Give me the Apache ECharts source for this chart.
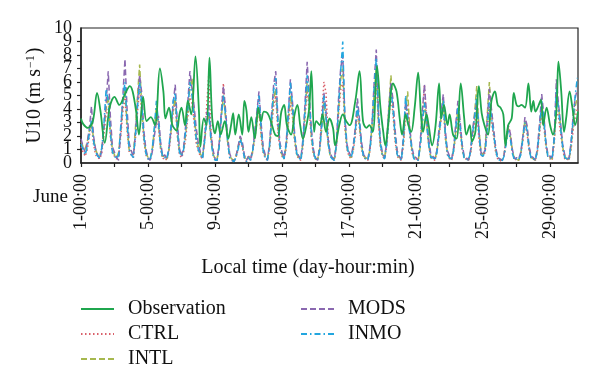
<!DOCTYPE html>
<html>
<head>
<meta charset="utf-8">
<script src="https://cdn.jsdelivr.net/npm/echarts@6/dist/echarts.min.js"></script>
<style>
html,body{margin:0;padding:0;background:#fff;}
#chart{width:600px;height:388px;}
</style>
</head>
<body>
<div id="chart"></div>
<script>
// X axis ticks (hours since June 1 00:00) and tick labels
const xTickHours = [0, 96, 192, 288, 384, 480, 576, 672];
const xTickLabels = ['1-00:00', '5-00:00', '9-00:00', '13-00:00', '17-00:00', '21-00:00', '25-00:00', '29-00:00'];
const yTicks = [0,1,2,3,4,5,6,7,8,9,10];

// Observation (hour, U10)
const obsHour = [0,3,10,17,23,28,34,41,48,55,63,70,74,79,83,89,94,100,106,113,118,121,126,131,137,141,144,149,153,158,164,169,171,176,180,184,188,192,196,200,206,211,215,218,221,226,231,234,237,240,244,249,254,258,262,267,272,278,282,287,291,295,301,306,310,314,318,323,327,330,334,337,342,346,351,356,361,364,370,375,380,385,393,399,404,409,413,418,424,429,433,436,440,447,452,457,460,465,469,473,478,483,487,490,495,498,503,508,513,516,520,525,528,533,538,544,549,552,557,560,565,570,574,578,583,588,593,597,601,605,608,612,617,620,624,627,631,636,641,645,648,651,655,659,662,667,672,676,681,684,688,692,695,700,704,708,712];
const obsU10 = [3.3,2.9,2.6,3.1,5.2,3.8,1.5,4.1,4.9,4.3,5.1,5.7,5.3,3.8,2.1,4.9,3.1,3.4,2.8,7.0,5.3,3.3,4.1,2.8,2.4,3.6,4.1,2.8,4.6,3.6,7.9,3.8,1.2,3.3,2.8,7.8,3.3,2.2,3.1,2.1,3.1,1.8,2.8,3.7,2.1,3.6,2.1,4.6,3.9,2.3,3.4,1.8,4.1,3.1,3.8,3.7,3.1,2.1,2.0,3.8,4.3,2.8,2.1,3.6,4.3,2.8,1.8,2.8,4.1,6.8,2.3,3.1,2.8,3.6,2.3,3.3,2.6,1.3,2.8,3.6,3.1,2.8,4.6,6.8,3.1,2.6,2.8,2.3,7.2,4.1,2.3,1.3,2.8,5.9,5.3,3.1,2.1,3.6,2.8,2.3,4.1,6.7,3.6,2.3,3.6,2.8,1.3,2.8,5.9,3.3,4.3,2.8,3.6,2.1,1.8,5.9,3.3,2.1,2.8,1.6,2.3,5.7,3.7,2.8,2.1,4.6,5.3,4.3,4.1,3.6,1.3,2.8,3.3,5.2,4.3,4.2,4.3,4.1,5.9,3.8,4.6,3.8,4.2,4.7,2.8,4.1,2.8,2.1,3.8,7.5,5.3,2.3,3.3,5.3,4.1,2.8,3.8];

// Model runs, every 3 hours from June 1 00:00 (8 values per day)
const CTRL = [
1.2,0.8,0.5,1.0,2.0,2.8,1.4,0.6, 0.4,0.3,0.8,2.2,3.6,4.0,2.0,0.7, 0.5,0.3,0.6,2.0,3.8,5.0,2.4,0.8, 0.6,0.4,1.8,3.8,5.5,3.8,1.6,0.6,
0.3,0.2,0.8,2.0,3.8,2.6,1.0,0.3, 0.4,0.2,0.9,2.2,3.8,4.4,2.0,0.6, 0.4,0.8,1.8,3.4,5.0,4.4,3.0,1.5, 0.9,0.5,0.3,1.8,4.2,6.5,2.6,0.8,
0.3,0.2,1.4,3.6,5.9,3.6,1.6,0.4, 0.2,0.1,0.4,1.0,1.6,1.2,0.4,0.1, 0.4,0.2,0.8,1.8,3.0,4.0,2.0,0.7, 0.4,0.2,1.0,2.6,4.2,5.0,2.4,1.0,
0.5,0.3,1.1,2.8,4.5,3.4,1.6,0.6, 0.3,0.2,1.2,3.4,5.5,3.8,1.8,0.6, 0.3,0.2,1.2,3.6,6.0,5.2,2.0,0.6, 0.3,0.2,1.2,3.6,5.4,6.0,2.6,1.0,
0.5,0.3,0.9,2.0,3.6,2.6,1.0,0.4, 0.3,0.2,0.9,2.4,4.6,6.5,3.0,1.1, 0.5,0.3,1.3,3.2,5.0,3.6,1.6,0.5, 0.3,0.2,1.3,3.6,4.4,2.2,0.8,0.3,
0.3,0.2,1.4,3.6,5.8,3.2,1.4,0.4, 0.3,0.2,0.8,2.0,3.2,4.2,1.8,0.6, 0.3,0.2,0.9,2.2,3.6,2.4,1.0,0.3, 0.3,0.2,0.7,1.8,3.0,4.0,1.8,0.5,
0.5,0.8,2.4,4.2,3.0,2.0,0.8,0.3, 0.2,0.1,0.6,1.8,2.8,2.2,0.8,0.2, 0.3,0.2,0.6,1.6,2.8,2.2,0.9,0.3, 0.3,0.2,0.9,2.2,3.8,2.8,1.2,0.4,
0.3,0.2,1.4,4.0,3.4,2.2,1.0,0.3, 0.3,0.2,1.0,2.4,3.4,4.0];
const INTL = [
1.6,1.2,1.0,1.6,2.4,3.0,1.8,1.0, 0.6,0.5,1.2,2.6,4.0,5.0,2.4,1.0, 0.6,0.4,0.8,2.4,4.4,5.5,2.8,1.0, 0.8,0.6,2.6,5.0,7.3,4.2,2.0,0.8,
0.4,0.3,1.0,2.4,4.2,2.8,1.2,0.5, 0.5,0.3,1.0,2.4,4.0,4.8,2.2,0.9, 0.6,1.0,2.2,3.8,5.6,6.3,3.8,2.0, 1.2,0.7,0.4,1.5,3.0,3.6,1.8,0.7,
0.3,0.3,1.3,3.4,5.0,3.4,1.6,0.5, 0.3,0.2,0.5,1.2,1.9,1.4,0.5,0.2, 0.5,0.3,0.9,2.0,3.2,4.0,2.2,0.9, 0.5,0.3,1.2,3.0,4.8,5.5,2.8,1.2,
0.6,0.4,1.3,3.2,5.0,3.8,1.8,0.7, 0.4,0.3,1.5,3.8,6.0,4.2,2.0,0.8, 0.3,0.3,1.0,2.6,4.5,3.2,1.4,0.5, 0.4,0.3,1.4,4.0,6.2,7.0,3.0,1.2,
0.6,0.4,1.1,2.4,4.0,2.8,1.2,0.5, 0.4,0.3,1.0,2.8,5.2,7.0,3.2,1.3, 0.6,0.4,1.6,4.2,6.5,4.2,2.0,0.7, 0.4,0.3,1.6,4.0,5.3,2.4,1.0,0.4,
0.3,0.2,1.2,3.0,4.4,3.0,1.4,0.5, 0.4,0.3,0.9,2.2,3.6,4.8,2.0,0.7, 0.4,0.3,1.0,2.4,4.0,2.8,1.2,0.4, 0.4,0.2,0.8,2.2,3.8,5.7,2.6,0.8,
0.6,1.2,3.6,6.0,3.8,2.4,1.0,0.4, 0.3,0.2,0.6,1.5,2.6,2.0,0.9,0.3, 0.3,0.2,0.7,1.9,3.2,2.6,1.1,0.4, 0.3,0.2,1.0,2.6,4.4,3.2,1.4,0.5,
0.4,0.3,1.8,5.0,4.2,2.8,1.2,0.5, 0.3,0.2,1.2,3.0,4.2,4.8];
const MODS = [
1.8,1.2,0.8,1.5,2.6,4.2,2.0,1.0, 0.6,0.3,1.0,2.8,4.5,6.8,3.5,1.2, 0.8,0.4,0.2,2.4,5.0,7.7,4.0,1.5, 0.9,0.5,2.2,4.6,6.5,5.2,2.4,1.0,
0.4,0.2,0.8,2.0,3.0,3.5,1.6,0.5, 0.6,0.3,1.0,2.5,4.4,5.8,3.0,1.1, 0.5,1.2,2.8,4.5,6.8,5.5,4.2,2.6, 1.5,0.8,0.4,1.8,3.6,4.3,2.2,1.0,
0.3,0.2,1.5,3.8,5.7,4.0,2.0,0.7, 0.3,0.1,0.5,1.2,2.0,1.6,0.6,0.2, 0.5,0.3,1.0,2.4,3.8,5.3,3.0,1.2, 0.6,0.2,1.4,3.6,5.8,6.8,3.4,1.5,
0.8,0.4,1.6,3.8,6.2,4.5,2.2,0.9, 0.5,0.3,1.8,4.5,7.5,5.0,2.6,1.0, 0.4,0.2,1.2,3.2,5.2,3.8,1.8,0.7, 0.4,0.3,1.5,4.8,7.0,8.0,3.5,1.4,
0.8,0.5,1.3,2.6,4.8,3.2,1.5,0.6, 0.4,0.3,1.2,3.0,6.0,8.4,4.0,1.6, 0.7,0.4,1.6,4.0,6.0,4.6,2.4,0.9, 0.5,0.3,2.0,4.5,3.5,2.6,1.2,0.5,
0.4,0.2,1.6,3.8,5.8,3.6,1.8,0.7, 0.5,0.3,1.0,2.6,3.8,5.1,2.4,0.9, 0.5,0.3,1.2,3.0,4.6,3.2,1.4,0.5, 0.4,0.2,0.9,2.4,3.6,4.5,2.4,0.8,
0.6,1.0,3.2,5.5,4.0,2.6,1.2,0.4, 0.3,0.2,0.6,1.6,2.8,2.2,1.0,0.3, 0.4,0.3,0.8,2.0,3.4,2.8,1.2,0.5, 0.4,0.2,1.2,3.0,5.1,3.6,1.6,0.6,
0.5,0.4,2.0,6.2,4.4,3.0,1.4,0.6, 0.4,0.3,1.5,3.5,4.8,5.5];
const INMO = [
1.4,1.0,0.6,1.2,2.2,3.2,1.6,0.8, 0.5,0.4,1.2,3.0,5.5,4.6,2.2,0.8, 0.5,0.3,0.6,2.8,4.8,6.0,3.0,1.0, 0.6,0.4,2.0,4.2,6.0,4.4,2.0,0.7,
0.3,0.2,1.0,2.6,4.6,3.0,1.2,0.4, 0.4,0.3,1.2,2.8,4.6,5.2,2.4,0.8, 0.5,1.0,2.4,4.0,6.0,5.0,3.4,1.8, 1.0,0.6,0.3,1.6,3.2,3.8,1.8,0.6,
0.2,0.2,1.2,3.4,5.0,3.6,1.6,0.4, 0.2,0.1,0.4,1.0,1.8,1.3,0.4,0.1, 0.4,0.2,0.9,2.2,3.6,5.0,2.6,0.9, 0.4,0.2,1.2,3.2,5.4,6.3,3.0,1.2,
0.6,0.3,1.4,3.6,6.0,4.2,2.0,0.7, 0.4,0.2,1.5,4.0,6.5,4.6,2.2,0.8, 0.3,0.2,1.0,2.8,5.0,3.4,1.5,0.5, 0.3,0.2,1.4,4.2,6.8,9.0,3.2,1.2,
0.6,0.4,1.0,2.4,4.2,3.0,1.2,0.4, 0.3,0.2,1.0,2.8,5.6,7.8,3.6,1.4, 0.5,0.3,1.4,3.6,5.5,4.0,2.0,0.6, 0.4,0.2,1.8,5.0,3.2,2.2,1.0,0.3,
0.3,0.2,1.2,3.0,4.5,3.0,1.4,0.4, 0.4,0.2,0.8,2.2,3.4,4.6,2.0,0.6, 0.4,0.2,1.0,2.6,4.2,2.8,1.2,0.3, 0.3,0.2,0.8,2.2,3.4,5.0,2.2,0.6,
0.5,0.8,2.6,4.5,3.4,2.2,1.0,0.3, 0.2,0.1,0.5,1.4,2.4,1.8,0.7,0.2, 0.3,0.2,0.6,1.8,3.0,2.4,1.0,0.3, 0.3,0.2,1.0,2.6,4.6,3.2,1.4,0.4,
0.4,0.3,1.8,5.5,4.0,2.6,1.2,0.4, 0.3,0.2,1.4,3.2,5.0,6.3];

const SERIF = 'Liberation Serif';
const pair = (xs, ys) => ys.map((v, i) => [xs[i], v]);
const modelHours = MODS.map((_, i) => i * 3);

const chart = echarts.init(document.getElementById('chart'), null, {renderer: 'canvas'});

function modelSeries(name, vals, color, dash) {
  return {
    name: name, type: 'line', data: pair(modelHours, vals), yAxisIndex: 0,
    symbol: 'none', showSymbol: false, smooth: false,
    lineStyle: {color: color, width: 1.5, type: dash},
    itemStyle: {color: color},
    emphasis: {disabled: true}, animation: false
  };
}

const legendCommon = {
  orient: 'vertical', top: 299, itemWidth: 33, itemHeight: 14, itemGap: 5, padding: 0,
  selectedMode: false, itemStyle: {opacity: 0, borderWidth: 0},
  textStyle: {fontFamily: SERIF, fontSize: 20, color: '#111', lineHeight: 20, padding: [0, 0, 0, 9]}
};
const yLabelStyle = {margin: 9, fontFamily: SERIF, fontSize: 18, color: '#111'};

const option = {
  animation: false,
  grid: {left: 81, right: 22, top: 28, bottom: 225, show: true, borderColor: '#222', borderWidth: 1.2, containLabel: false},
  xAxis: {
    type: 'value', min: 0, max: 712, interval: 48,
    axisLine: {show: true, lineStyle: {color: '#222', width: 1.5}},
    axisTick: {show: true, length: 4, lineStyle: {color: '#222', width: 1.2}},
    splitLine: {show: false},
    axisLabel: {
      rotate: 90, margin: 11, fontFamily: SERIF, fontSize: 18, color: '#111',
      showMaxLabel: false, showMinLabel: true,
      formatter: function (v) { const i = xTickHours.indexOf(v); return i >= 0 ? xTickLabels[i] : ''; }
    }
  },
  yAxis: [{
    type: 'value', min: 0, max: 10, interval: 1, position: 'left',
    name: 'U10 (m s{sup|−1})', nameLocation: 'middle', nameGap: 36,
    nameTextStyle: {fontFamily: SERIF, fontSize: 20, color: '#111',
      rich: {sup: {fontFamily: SERIF, fontSize: 12, color: '#111', verticalAlign: 'top', padding: [0, 1, 8, 1]}}},
    axisLine: {show: true, lineStyle: {color: '#222', width: 1.5}},
    axisTick: {show: true, length: 4, lineStyle: {color: '#222', width: 1.2}},
    splitLine: {show: false},
    axisLabel: Object.assign({showMinLabel: false, showMaxLabel: false,
      formatter: function (v) { return (v > 0 && v < 10 && yTicks.indexOf(v) >= 0) ? String(v) : ''; }}, yLabelStyle)
  }, {
    // carries the end labels 0 and 10 so they are not dropped for overlapping 1 and 9
    type: 'value', min: 0, max: 10, interval: 10, position: 'left', offset: 0,
    axisLine: {show: false}, axisTick: {show: false}, splitLine: {show: false},
    axisLabel: Object.assign({showMinLabel: true, showMaxLabel: true,
      formatter: function (v) { return String(yTicks[yTicks.indexOf(v)]); }}, yLabelStyle)
  }],
  legend: [
    Object.assign({data: ['Observation', 'CTRL', 'INTL'], left: 80}, legendCommon),
    Object.assign({data: ['MODS', 'INMO'], left: 300}, legendCommon)
  ],
  graphic: [
    {type: 'text', left: 33, top: 188, style: {text: 'June', font: '19px "Liberation Serif"', fill: '#111'}},
    {type: 'text', x: 308, y: 268, style: {text: 'Local time (day-hour:min)', font: '20px "Liberation Serif"', fill: '#111', textAlign: 'center', textVerticalAlign: 'middle'}}
  ],
  series: [
    modelSeries('CTRL', CTRL, '#d9606a', [1.5, 2.5]),
    modelSeries('INTL', INTL, '#a6b84e', [6, 3]),
    modelSeries('MODS', MODS, '#8a68b0', [6, 3]),
    modelSeries('INMO', INMO, '#22a6df', [6, 3, 1.5, 3]),
    {name: 'Observation', type: 'line', data: pair(obsHour, obsU10), yAxisIndex: 0, symbol: 'none', showSymbol: false,
      smooth: 0.35, lineStyle: {color: '#1fa64e', width: 1.8}, itemStyle: {color: '#1fa64e'}, z: 5,
      emphasis: {disabled: true}}
  ]
};
chart.setOption(option);
</script>
</body>
</html>
